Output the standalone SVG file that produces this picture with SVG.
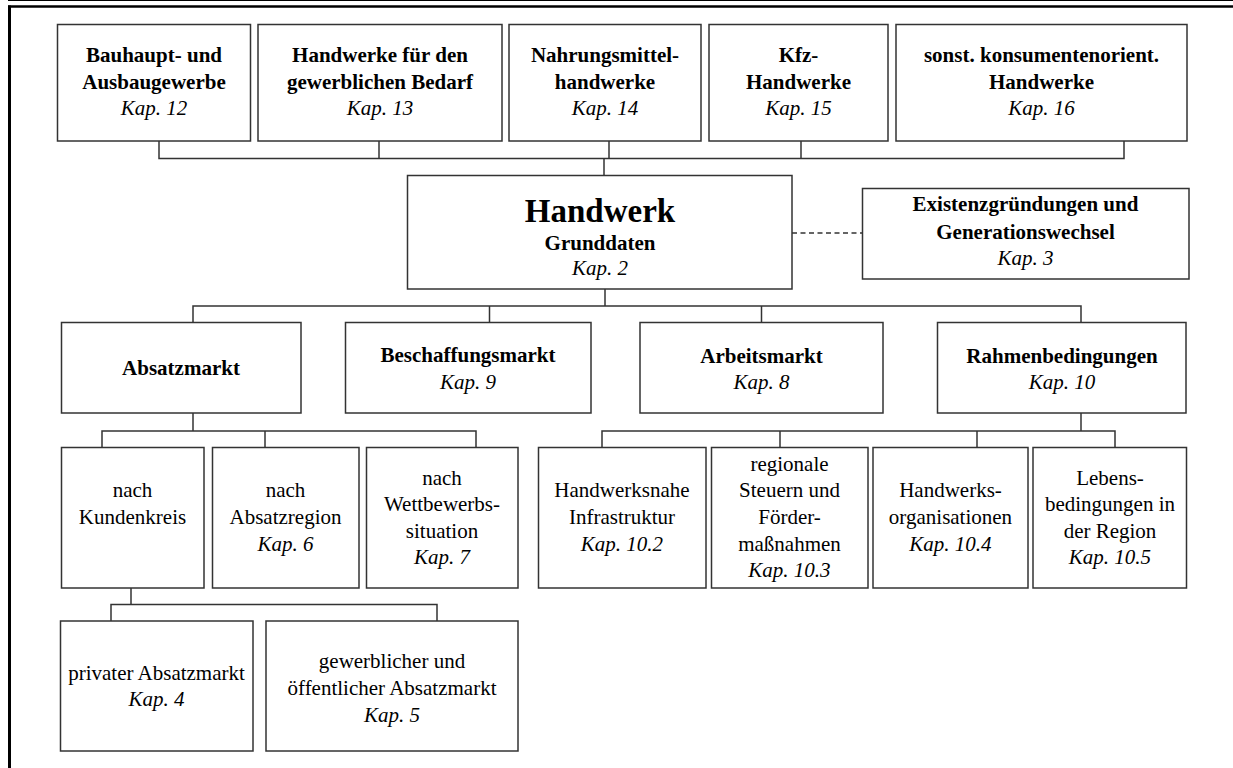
<svg xmlns="http://www.w3.org/2000/svg" width="1233" height="768" viewBox="0 0 1233 768">
<style>
.b{fill:#fff;stroke:#333;stroke-width:1.5}
.c{fill:none;stroke:#333;stroke-width:1.5}
text{font-size:21px;fill:#000;text-anchor:middle}
.t{font-weight:bold}
.k{font-style:italic}
.big{font-weight:bold;font-size:33px}
</style>
<rect width="1233" height="768" fill="#fff"/>
<g id="frame">
<line x1="8" y1="0.5" x2="1233" y2="0.5" stroke="#000" stroke-width="1.2"/>
<line x1="8" y1="6.5" x2="1233" y2="6.5" stroke="#000" stroke-width="2.5"/>
<line x1="9.5" y1="5.5" x2="9.5" y2="768" stroke="#000" stroke-width="3"/>
</g>
<g id="connectors">
<polyline class="c" points="159,141 159,158.5 1124,158.5 1124,141"/>
<line class="c" x1="379" y1="141" x2="379" y2="158.5"/>
<line class="c" x1="609" y1="141" x2="609" y2="158.5"/>
<line class="c" x1="801" y1="141" x2="801" y2="158.5"/>
<line class="c" x1="604" y1="158.5" x2="604" y2="175"/>
<line class="c" x1="792" y1="233" x2="862" y2="233" stroke-dasharray="5 3.5"/>
<line class="c" x1="605" y1="289" x2="605" y2="306"/>
<polyline class="c" points="193,322 193,306 1081,306 1081,322"/>
<line class="c" x1="489.5" y1="306" x2="489.5" y2="322"/>
<line class="c" x1="761.5" y1="306" x2="761.5" y2="322"/>
<line class="c" x1="193" y1="413" x2="193" y2="431"/>
<polyline class="c" points="102,447 102,431 476,431 476,447"/>
<line class="c" x1="265" y1="431" x2="265" y2="447"/>
<line class="c" x1="1081" y1="413" x2="1081" y2="431"/>
<polyline class="c" points="602,447 602,431 1115,431 1115,447"/>
<line class="c" x1="780" y1="431" x2="780" y2="447"/>
<line class="c" x1="977" y1="431" x2="977" y2="447"/>
<line class="c" x1="131" y1="588" x2="131" y2="604.5"/>
<polyline class="c" points="111,621 111,604.5 437,604.5 437,621"/>
</g>
<g font-family="Liberation Serif, Times New Roman, DejaVu Serif, serif">
<g id="n12"><rect class="b" x="57.5" y="24.5" width="193" height="116.5"/>
<text class="t" x="154" y="62">Bauhaupt- und</text><text class="t" x="154" y="89">Ausbaugewerbe</text><text class="k" x="154" y="115">Kap. 12</text></g>
<g id="n13"><rect class="b" x="258" y="24.5" width="244" height="116.5"/>
<text class="t" x="380" y="62">Handwerke für den</text><text class="t" x="380" y="89">gewerblichen Bedarf</text><text class="k" x="380" y="115">Kap. 13</text></g>
<g id="n14"><rect class="b" x="509" y="24.5" width="192" height="116.5"/>
<text class="t" x="605" y="62">Nahrungsmittel-</text><text class="t" x="605" y="89">handwerke</text><text class="k" x="605" y="115">Kap. 14</text></g>
<g id="n15"><rect class="b" x="709" y="24.5" width="179" height="116.5"/>
<text class="t" x="798.5" y="62">Kfz-</text><text class="t" x="798.5" y="89">Handwerke</text><text class="k" x="798.5" y="115">Kap. 15</text></g>
<g id="n16"><rect class="b" x="896" y="24.5" width="291" height="116.5"/>
<text class="t" x="1041.5" y="62">sonst. konsumentenorient.</text><text class="t" x="1041.5" y="89">Handwerke</text><text class="k" x="1041.5" y="115">Kap. 16</text></g>
<g id="n2"><rect class="b" x="407.5" y="175.5" width="384.5" height="113.5"/>
<text class="big" x="600" y="222">Handwerk</text><text class="t" x="600" y="250">Grunddaten</text><text class="k" x="600" y="275">Kap. 2</text></g>
<g id="n3"><rect class="b" x="862.5" y="188.5" width="326.5" height="90.5"/>
<text class="t" x="1025.5" y="211">Existenzgründungen und</text><text class="t" x="1025.5" y="239">Generationswechsel</text><text class="k" x="1025.5" y="265">Kap. 3</text></g>
<g id="absatz"><rect class="b" x="61.5" y="322.5" width="239.5" height="90.5"/>
<text class="t" x="181" y="375">Absatzmarkt</text></g>
<g id="n9"><rect class="b" x="345.5" y="322.5" width="245.5" height="90.5"/>
<text class="t" x="468" y="362">Beschaffungsmarkt</text><text class="k" x="468" y="389">Kap. 9</text></g>
<g id="n8"><rect class="b" x="640" y="322.5" width="243" height="90.5"/>
<text class="t" x="761.5" y="363">Arbeitsmarkt</text><text class="k" x="761.5" y="389">Kap. 8</text></g>
<g id="n10"><rect class="b" x="937.5" y="322.5" width="248.5" height="90.5"/>
<text class="t" x="1062" y="363">Rahmenbedingungen</text><text class="k" x="1062" y="389">Kap. 10</text></g>
<g id="kunden"><rect class="b" x="61.5" y="447.5" width="142.5" height="140.5"/>
<text x="132.5" y="497">nach</text><text x="132.5" y="524">Kundenkreis</text></g>
<g id="n6"><rect class="b" x="212.5" y="447.5" width="146.5" height="140.5"/>
<text x="285.5" y="497">nach</text><text x="285.5" y="524">Absatzregion</text><text class="k" x="285.5" y="551">Kap. 6</text></g>
<g id="n7"><rect class="b" x="366.5" y="447.5" width="151.5" height="140.5"/>
<text x="442" y="485">nach</text><text x="442" y="511">Wettbewerbs-</text><text x="442" y="538">situation</text><text class="k" x="442" y="564">Kap. 7</text></g>
<g id="n102"><rect class="b" x="538.5" y="447.5" width="167.5" height="140.5"/>
<text x="622" y="497">Handwerksnahe</text><text x="622" y="524">Infrastruktur</text><text class="k" x="622" y="551">Kap. 10.2</text></g>
<g id="n103"><rect class="b" x="711.5" y="447.5" width="156.5" height="140.5"/>
<text x="789.5" y="471">regionale</text><text x="789.5" y="497">Steuern und</text><text x="789.5" y="524">Förder-</text><text x="789.5" y="551">maßnahmen</text><text class="k" x="789.5" y="577">Kap. 10.3</text></g>
<g id="n104"><rect class="b" x="873" y="447.5" width="155" height="140.5"/>
<text x="950.5" y="497">Handwerks-</text><text x="950.5" y="524">organisationen</text><text class="k" x="950.5" y="551">Kap. 10.4</text></g>
<g id="n105"><rect class="b" x="1033" y="447.5" width="153.5" height="140.5"/>
<text x="1110" y="485">Lebens-</text><text x="1110" y="511">bedingungen in</text><text x="1110" y="538">der Region</text><text class="k" x="1110" y="564">Kap. 10.5</text></g>
<g id="n4"><rect class="b" x="60.5" y="621" width="192.5" height="130"/>
<text x="156.5" y="680">privater Absatzmarkt</text><text class="k" x="156.5" y="706">Kap. 4</text></g>
<g id="n5"><rect class="b" x="266" y="621" width="252" height="130"/>
<text x="392" y="668">gewerblicher und</text><text x="392" y="695">öffentlicher Absatzmarkt</text><text class="k" x="392" y="722">Kap. 5</text></g>
</g>
</svg>
